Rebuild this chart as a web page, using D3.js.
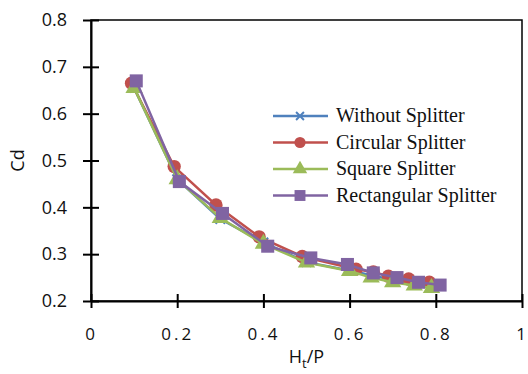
<!DOCTYPE html>
<html><head><meta charset="utf-8">
<script src="https://cdn.jsdelivr.net/npm/d3@7/dist/d3.min.js"></script>
<style>body{margin:0;background:#fff}svg{display:block}</style>
</head><body>
<script>
const seriesNames = ["Without Splitter","Circular Splitter","Square Splitter","Rectangular Splitter"];
const seriesColors = ["#4F81BD","#C0504D","#9BBB59","#8064A2"];
const xWithout = [0.1,0.2,0.3,0.4,0.5,0.6,0.65,0.7,0.75,0.79];
const yWithout = [0.655,0.46,0.375,0.325,0.283,0.265,0.255,0.245,0.238,0.232];
const xCircular = [0.094,0.193,0.29,0.39,0.49,0.615,0.655,0.69,0.737,0.785];
const yCircular = [0.665,0.487,0.405,0.337,0.295,0.268,0.262,0.253,0.247,0.24];
const xSquare = [0.1,0.2,0.3,0.4,0.5,0.6,0.65,0.7,0.75,0.79];
const ySquare = [0.655,0.46,0.377,0.322,0.282,0.264,0.25,0.24,0.233,0.228];
const xRect = [0.105,0.205,0.305,0.41,0.51,0.595,0.655,0.71,0.76,0.81];
const yRect = [0.67,0.455,0.387,0.317,0.292,0.278,0.26,0.25,0.24,0.234];
const xTicks = [0,0.2,0.4,0.6,0.8,1];
const yTicks = [0.2,0.3,0.4,0.5,0.6,0.7,0.8];

const W=528,H=374;
const svg=d3.select("body").append("svg").attr("width",W).attr("height",H);
const x=d3.scaleLinear().domain([0,1]).range([91,522]);
const y=d3.scaleLinear().domain([0.2,0.8]).range([301,20]);

// frame
svg.append("rect").attr("x",x(0)).attr("y",y(0.8)).attr("width",x(1)-x(0)).attr("height",y(0.2)-y(0.8))
  .attr("fill","none").attr("stroke","#000").attr("stroke-width",1.5);

const fmt=d=>d===0||d===1?String(d):d.toFixed(1);
const gx=svg.append("g").attr("transform",`translate(0,${y(0.2)})`)
  .call(d3.axisBottom(x).tickValues(xTicks).tickFormat(fmt).tickSizeInner(7).tickSizeOuter(0).tickPadding(20));
gx.select(".domain").attr("stroke-width",2);
gx.selectAll(".tick line").attr("y1",-7).attr("stroke-width",2);
gx.selectAll(".tick text").attr("font-family","'Open Sans',sans-serif").attr("font-size",17)
  .attr("letter-spacing","3px").attr("fill","#111");

const gy=svg.append("g").attr("transform",`translate(${x(0)},0)`)
  .call(d3.axisLeft(y).tickValues(yTicks).tickFormat(d=>d.toFixed(1)).tickSizeInner(8).tickSizeOuter(0).tickPadding(16));
gy.select(".domain").attr("stroke-width",2);
gy.selectAll(".tick line").attr("x1",8).attr("stroke-width",2);
gy.selectAll(".tick text").attr("font-family","'Open Sans',sans-serif").attr("font-size",18).attr("fill","#111");

// axis titles
const xt=svg.append("text").attr("x",(x(0)+x(1))/2).attr("y",363).attr("text-anchor","middle")
  .attr("font-family","'Open Sans',sans-serif").attr("font-size",18).attr("fill","#111");
xt.append("tspan").text("H");
xt.append("tspan").attr("dy",5).attr("font-size",13).text("t");
xt.append("tspan").attr("dy",-5).text("/P");
svg.append("text").attr("transform",`translate(24,${(y(0.2)+y(0.8))/2}) rotate(-90)`).attr("text-anchor","middle")
  .attr("font-family","'Open Sans',sans-serif").attr("font-size",18).attr("fill","#111").text("Cd");

const allX=[xWithout,xCircular,xSquare,xRect], allY=[yWithout,yCircular,ySquare,yRect];
const symbols=[d3.symbolX,d3.symbolCircle,d3.symbolTriangle,d3.symbolSquare];
const sizes=[60,140,130,170];
const line=d3.line().x(d=>x(d[0])).y(d=>y(d[1]));
allX.forEach((xs,i)=>{
  const pts=xs.map((v,j)=>[v,allY[i][j]]);
  const g=svg.append("g");
  g.append("path").attr("d",line(pts)).attr("fill","none").attr("stroke",seriesColors[i]).attr("stroke-width",2.5);
  g.selectAll("path.m").data(pts).enter().append("path").attr("class","m")
    .attr("transform",d=>`translate(${x(d[0])},${y(d[1])})`)
    .attr("d",d3.symbol().type(symbols[i]).size(sizes[i]))
    .attr("fill",i===0?"none":seriesColors[i]).attr("stroke",seriesColors[i]).attr("stroke-width",i===0?2:0);
});

// legend
const lg=svg.append("g");
seriesNames.forEach((n,i)=>{
  const ly=116+i*26.5;
  lg.append("line").attr("x1",273).attr("x2",328).attr("y1",ly).attr("y2",ly).attr("stroke",seriesColors[i]).attr("stroke-width",2.5);
  lg.append("path").attr("transform",`translate(300,${ly})`).attr("d",d3.symbol().type(symbols[i]).size(sizes[i]*0.7))
    .attr("fill",i===0?"none":seriesColors[i]).attr("stroke",seriesColors[i]).attr("stroke-width",i===0?2:0);
  lg.append("text").attr("x",336).attr("y",ly+6).attr("font-family","'Liberation Serif',serif").attr("font-size",20)
    .attr("fill","#111").text(n);
});
</script>
</body></html>
